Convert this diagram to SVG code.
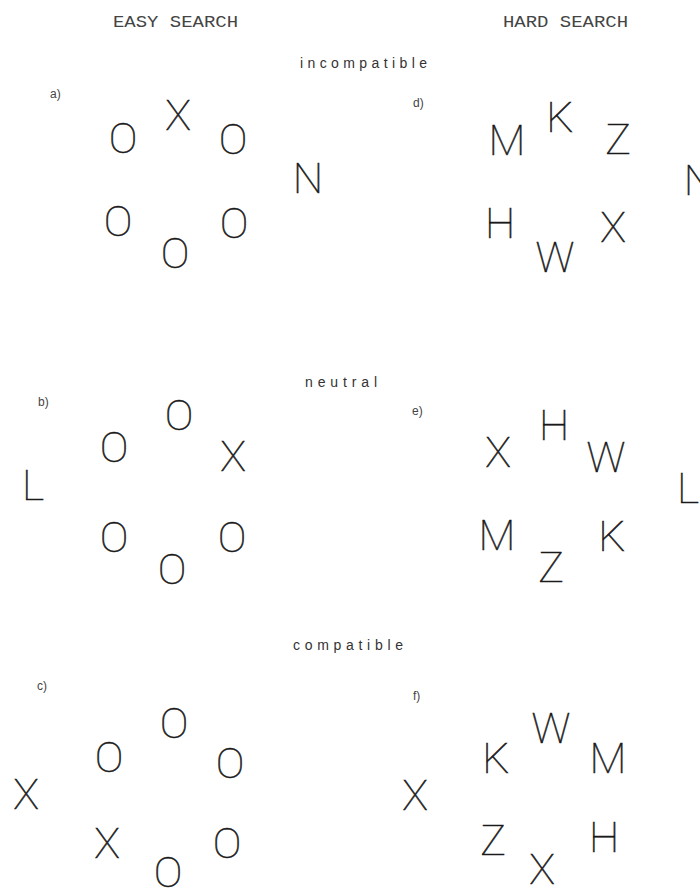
<svg xmlns="http://www.w3.org/2000/svg" width="700" height="890" viewBox="0 0 700 890">
<style>
.big{font-family:"Roboto","DejaVu Sans","Liberation Sans",sans-serif;font-weight:100;font-size:43px;fill:#1a1a1a;stroke:#1a1a1a;stroke-width:0.5;text-anchor:middle}
.st{text-anchor:start}
.head{font-family:"Liberation Mono","DejaVu Sans Mono",monospace;font-size:16px;fill:#444}
.cond{font-family:"Liberation Sans","DejaVu Sans",sans-serif;font-size:14px;fill:#333}
.lab{font-family:"Liberation Sans","DejaVu Sans",sans-serif;font-size:12px;fill:#444}
</style>
<rect width="700" height="890" fill="#ffffff"/>
<g id="headings">
<text class="head" x="113" y="27" textLength="125" lengthAdjust="spacingAndGlyphs">EASY SEARCH</text>
<text class="head" x="503" y="27" textLength="125" lengthAdjust="spacingAndGlyphs">HARD SEARCH</text>
<text class="cond" x="300" y="68" textLength="127" lengthAdjust="spacing">incompatible</text>
<text class="cond" x="305" y="387" textLength="72" lengthAdjust="spacing">neutral</text>
<text class="cond" x="293" y="650" textLength="110" lengthAdjust="spacing">compatible</text>
</g>
<g id="panel-a">
<text class="lab" x="50" y="98">a)</text>
<text class="big" x="123" y="153">O</text>
<text class="big" x="178" y="130">X</text>
<text class="big" x="233" y="154">O</text>
<text class="big" x="308" y="193">N</text>
<text class="big" x="118" y="236">O</text>
<text class="big" x="175" y="268">O</text>
<text class="big" x="234" y="238">O</text>
</g>
<g id="panel-d">
<text class="lab" x="413" y="107">d)</text>
<text class="big" x="507" y="155">M</text>
<text class="big" x="560" y="132">K</text>
<text class="big" x="618" y="154">Z</text>
<text class="big" x="699" y="195">N</text>
<text class="big" x="500" y="238">H</text>
<text class="big" x="555" y="272">W</text>
<text class="big" x="613" y="242">X</text>
</g>
<g id="panel-b">
<text class="lab" x="38" y="406">b)</text>
<text class="big" x="179" y="430">O</text>
<text class="big" x="114" y="462">O</text>
<text class="big" x="233" y="471">X</text>
<text class="big st" x="22" y="500">L</text>
<text class="big" x="114" y="552">O</text>
<text class="big" x="172" y="584">O</text>
<text class="big" x="232" y="552">O</text>
</g>
<g id="panel-e">
<text class="lab" x="412" y="415">e)</text>
<text class="big" x="554" y="440">H</text>
<text class="big" x="498" y="467">X</text>
<text class="big" x="606" y="472">W</text>
<text class="big st" x="677" y="503">L</text>
<text class="big" x="497" y="550">M</text>
<text class="big" x="551" y="582">Z</text>
<text class="big" x="612" y="551">K</text>
</g>
<g id="panel-c">
<text class="lab" x="37" y="690">c)</text>
<text class="big" x="174" y="738">O</text>
<text class="big" x="109" y="772">O</text>
<text class="big" x="230" y="778">O</text>
<text class="big" x="26" y="809">X</text>
<text class="big" x="107" y="858">X</text>
<text class="big" x="227" y="858">O</text>
<text class="big" x="168" y="887">O</text>
</g>
<g id="panel-f">
<text class="lab" x="413" y="700">f)</text>
<text class="big" x="551" y="743">W</text>
<text class="big" x="496" y="773">K</text>
<text class="big" x="608" y="773">M</text>
<text class="big" x="415" y="810">X</text>
<text class="big" x="493" y="855">Z</text>
<text class="big" x="604" y="852">H</text>
<text class="big" x="542" y="884">X</text>
</g>
</svg>
